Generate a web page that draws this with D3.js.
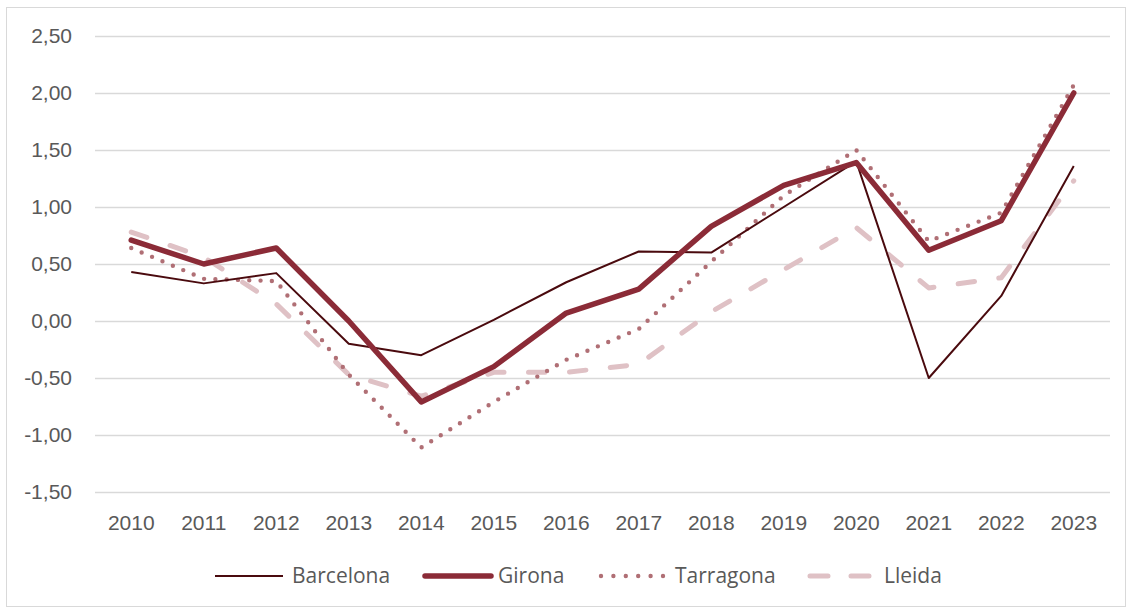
<!DOCTYPE html>
<html>
<head>
<meta charset="utf-8">
<script src="https://cdn.jsdelivr.net/npm/d3@7"></script>
<style>
  body { margin: 0; background: #fff; }
  svg { display: block; font-family: "Open Sans", "Liberation Sans", sans-serif; }
</style>
</head>
<body>
<svg width="1132" height="609"></svg>
<script>
// data
const years = ["2010", "2011", "2012", "2013", "2014", "2015", "2016", "2017", "2018", "2019", "2020", "2021", "2022", "2023"];
const barcelona = [0.43, 0.33, 0.42, -0.20, -0.30, 0.01, 0.34, 0.61, 0.60, 1.00, 1.40, -0.50, 0.22, 1.36];
const girona = [0.71, 0.50, 0.64, 0.00, -0.71, -0.40, 0.07, 0.28, 0.83, 1.19, 1.39, 0.62, 0.88, 2.00];
const tarragona = [0.64, 0.37, 0.35, -0.47, -1.11, -0.71, -0.34, -0.07, 0.52, 1.10, 1.50, 0.70, 0.95, 2.07];
const lleida = [0.78, 0.56, 0.15, -0.47, -0.66, -0.45, -0.45, -0.38, 0.08, 0.45, 0.82, 0.29, 0.38, 1.23];
const yTicks = [-1.5, -1, -0.5, 0, 0.5, 1, 1.5, 2, 2.5];

const series = [
  { name: "Barcelona", values: barcelona, color: "#4a0a0e", width: 2, dash: null, legendDash: null, cap: "butt" },
  { name: "Girona", values: girona, color: "#8b2b37", width: 5.5, dash: null, legendDash: null, cap: "round" },
  { name: "Tarragona", values: tarragona, color: "#b06f75", width: 4.4, dash: "0,11.3", legendDash: "0,12.4", cap: "round" },
  { name: "Lleida", values: lleida, color: "#dfc1c5", width: 5, dash: "16.5,24.5", legendDash: "18,23", cap: "round" },
];

const svg = d3.select("svg");
const margin = { left: 95, right: 22, top: 36, bottom: 117 };
const width = 1132, height = 609;
const FONT_SIZE = "21px";
const TEXT_COLOR = "#595959";

// outer frame
svg.append("rect")
  .attr("x", 6.5).attr("y", 7.5)
  .attr("width", width - 13).attr("height", height - 10)
  .attr("fill", "none").attr("stroke", "#d9d9d9");

const x = d3.scaleBand()
  .domain(years)
  .range([margin.left, width - margin.right]);

const y = d3.scaleLinear()
  .domain([-1.5, 2.5])
  .range([height - margin.bottom, margin.top]);

const fmt = d => d3.format(".2f")(d).replace(".", ",").replace("−", "-");

// gridlines
svg.append("g")
  .selectAll("line")
  .data(yTicks)
  .enter()
  .append("line")
  .attr("x1", margin.left)
  .attr("x2", width - margin.right)
  .attr("y1", d => Math.round(y(d)) + 0.5)
  .attr("y2", d => Math.round(y(d)) + 0.5)
  .attr("stroke", "#d9d9d9")
  .attr("stroke-width", 1.3);

// y axis labels
const yAxis = svg.append("g")
  .attr("transform", `translate(${margin.left - 23},0)`)
  .call(d3.axisLeft(y).tickValues(yTicks).tickFormat(fmt).tickSize(0).tickPadding(0));
yAxis.select(".domain").remove();
yAxis.selectAll("text")
  .attr("fill", TEXT_COLOR)
  .style("font-size", FONT_SIZE);

// x axis labels
const xAxis = svg.append("g")
  .attr("transform", `translate(0,${height - margin.bottom + 31})`)
  .call(d3.axisBottom(x).tickSize(0).tickPadding(0));
xAxis.select(".domain").remove();
xAxis.selectAll("text")
  .attr("dy", "0.35em")
  .attr("y", 0)
  .attr("fill", TEXT_COLOR)
  .style("font-size", FONT_SIZE);

const line = d3.line()
  .x((d, i) => x(years[i]) + x.bandwidth() / 2)
  .y(d => y(d));

// draw Lleida first so darker lines sit on top
const drawOrder = [series[3], series[2], series[0], series[1]];
svg.append("g")
  .selectAll("path")
  .data(drawOrder)
  .enter()
  .append("path")
  .attr("d", d => line(d.values))
  .attr("fill", "none")
  .attr("stroke", d => d.color)
  .attr("stroke-width", d => d.width)
  .attr("stroke-dasharray", d => d.dash)
  .attr("stroke-linecap", d => d.cap)
  .attr("stroke-linejoin", "round");

// legend
const legendX1 = [215, 425, 601, 810];
const legendX2 = [283, 491, 663.5, 870];
const legendTextX = [292, 498, 675, 884];
const legendY = 576;
const legend = svg.append("g")
  .selectAll("g")
  .data(series)
  .enter()
  .append("g");

legend.append("line")
  .attr("x1", (d, i) => legendX1[i])
  .attr("x2", (d, i) => legendX2[i])
  .attr("y1", legendY).attr("y2", legendY)
  .attr("stroke", d => d.color)
  .attr("stroke-width", d => d.width)
  .attr("stroke-dasharray", d => d.legendDash)
  .attr("stroke-linecap", d => d.cap);

legend.append("text")
  .attr("x", (d, i) => legendTextX[i])
  .attr("y", legendY)
  .attr("dy", "0.35em")
  .attr("fill", TEXT_COLOR)
  .style("font-size", FONT_SIZE)
  .text(d => d.name);
</script>
</body>
</html>
